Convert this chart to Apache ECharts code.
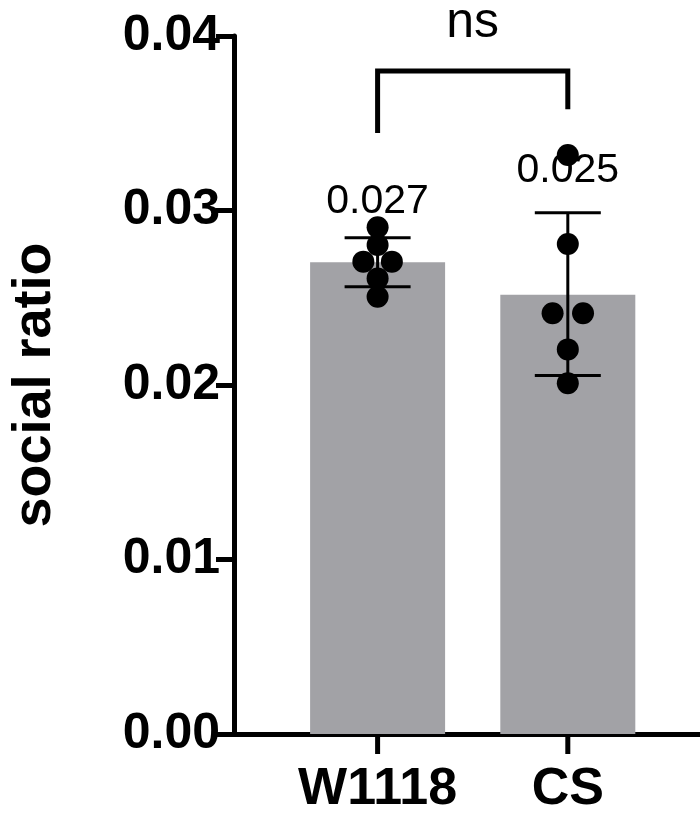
<!DOCTYPE html><html><head><meta charset="utf-8"><script src="https://cdn.jsdelivr.net/npm/echarts@6/dist/echarts.min.js"></script></head><body style="margin:0"><div id="c" style="width:700px;height:821px"></div><script>
const categories=['W1118','CS'];
const means=[0.02703,0.02517];
const errLow=[0.02563,0.02055];
const errHigh=[0.02844,0.02987];
const meanLabels=['0.027','0.025'];
const pointsW=[[0,0.02904],[0,0.02802],[-0.075,0.02707],[0.075,0.02707],[0,0.02611],[0,0.02506]];
const pointsCS=[[0,0.03318],[0,0.02808],[-0.08,0.02411],[0.08,0.02411],[0,0.02204],[0,0.0201]];
const yTicks=[0,0.01,0.02,0.03,0.04];
const sig={a:0,b:1,top:0.0380,leftEnd:0.03444,rightEnd:0.0358,text:'ns'};
const pts=pointsW.map(p=>[p[0],p[1]]).concat(pointsCS.map(p=>[1+p[0],p[1]]));
const ch=echarts.init(document.getElementById('c'));
const F='Liberation Sans, Arial, sans-serif';
ch.setOption({
 grid:{left:210,right:0,top:36,bottom:87},
 xAxis:{type:'value',min:-0.755,max:1.695,interval:1,
  axisLine:{onZero:false,lineStyle:{color:'#000',width:5}},
  axisTick:{show:false},splitLine:{show:false},
  axisLabel:{show:false}},
 yAxis:{type:'value',min:0,max:0.04,interval:0.01,
  name:'social ratio',nameLocation:'middle',nameGap:172,nameRotate:90,
  nameTextStyle:{fontFamily:F,fontWeight:'bold',fontSize:54,color:'#000'},
  axisLine:{show:true,onZero:false,lineStyle:{color:'#000',width:5}},
  axisTick:{show:true,length:18,lineStyle:{width:5,color:'#000'}},
  splitLine:{show:false},
  axisLabel:{fontFamily:F,fontWeight:'bold',fontSize:50,color:'#000',margin:14,formatter:v=>v.toFixed(2)}},
 series:[
  {type:'bar',data:means.map((m,i)=>[i,m]),barWidth:135,itemStyle:{color:'#a2a2a6'},z:1},
  {type:'custom',z:2,data:categories.map((c,i)=>[i,errLow[i],errHigh[i]]),
   renderItem:(p,api)=>{const x=api.coord([api.value(0),0])[0];const lo=api.coord([0,api.value(1)])[1];const hi=api.coord([0,api.value(2)])[1];const w=33;const st={stroke:'#000',lineWidth:3};
    return {type:'group',children:[
     {type:'line',shape:{x1:x,y1:lo,x2:x,y2:hi},style:st},
     {type:'line',shape:{x1:x-w,y1:lo,x2:x+w,y2:lo},style:st},
     {type:'line',shape:{x1:x-w,y1:hi,x2:x+w,y2:hi},style:st}]};}},
  {type:'scatter',z:3,data:pts,symbolSize:22,itemStyle:{color:'#000',opacity:1}},
  {type:'custom',z:4,data:categories.map((c,i)=>[i,i]),clip:false,
   renderItem:(p,api)=>{const i=api.value(1);const x=api.coord([i,0])[0];const y=api.coord([0,0])[1];
    return {type:'group',children:[
     {type:'line',shape:{x1:x,y1:y,x2:x,y2:y+20},style:{stroke:'#000',lineWidth:5}},
     {type:'text',style:{text:categories[i],x:x,y:y+56,align:'center',verticalAlign:'middle',font:'bold 52px '+F,fill:'#000'}},
     {type:'text',style:{text:meanLabels[i],x:x,y:api.coord([0,[0.0305,0.0323][i]])[1],align:'center',verticalAlign:'middle',font:'41px '+F,fill:'#000'}}]};}},
  {type:'custom',z:5,data:[[sig.a,sig.b]],clip:false,
   renderItem:(p,api)=>{const xa=api.coord([sig.a,0])[0],xb=api.coord([sig.b,0])[0];const yt=api.coord([0,sig.top])[1];const yl=api.coord([0,sig.leftEnd])[1];const yr=api.coord([0,sig.rightEnd])[1];
    return {type:'group',children:[
     {type:'polyline',shape:{points:[[xa,yl],[xa,yt],[xb,yt],[xb,yr]]},style:{stroke:'#000',lineWidth:5,fill:null}},
     {type:'text',style:{text:sig.text,x:(xa+xb)/2,y:yt-48,align:'center',verticalAlign:'middle',font:'50px '+F,fill:'#000'}}]};}}
 ]});
</script></body></html>
